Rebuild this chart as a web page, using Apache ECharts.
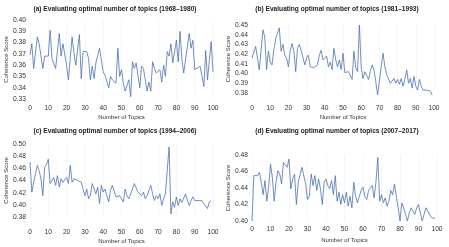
<!DOCTYPE html>
<html>
<head>
<meta charset="utf-8">
<script src="https://cdn.jsdelivr.net/npm/echarts@6/dist/echarts.min.js"></script>
<style>
  html, body { margin: 0; padding: 0; background: #fff; }
  #chart { width: 449px; height: 247px; }
</style>
</head>
<body>
<div id="chart"></div>
<script>
// (a) 1968-1980: read at the visible vertices
var topicsA = [0, 1, 2, 4, 5, 7, 8, 9, 10, 11, 12, 14, 16, 17, 18, 19, 20, 21, 23, 24, 25, 27, 28, 29,
  31, 32, 33, 34, 35, 36, 38, 39, 40, 41, 43, 44, 45, 47, 48, 49, 50, 51, 52, 54, 55, 56, 57, 58,
  60, 61, 62, 64, 65, 66, 67, 68, 69, 71, 72, 73, 74, 75, 76, 77, 78, 80, 81, 82, 83, 84, 85, 87,
  88, 89, 90, 91, 93, 94, 95, 96, 97, 99, 100]
var scoresA = [0.369, 0.379, 0.357, 0.385, 0.379, 0.357, 0.368, 0.367, 0.368, 0.391, 0.366, 0.357,
  0.388, 0.368, 0.379, 0.378, 0.360, 0.347, 0.385, 0.371, 0.360, 0.387, 0.348, 0.372,
  0.372, 0.366, 0.347, 0.359, 0.348, 0.362, 0.375, 0.375, 0.354, 0.351, 0.340, 0.350,
  0.347, 0.344, 0.375, 0.350, 0.356, 0.344, 0.337, 0.347, 0.332, 0.363, 0.357, 0.362,
  0.340, 0.359, 0.357, 0.337, 0.345, 0.337, 0.363, 0.357, 0.353, 0.356, 0.345, 0.360,
  0.350, 0.372, 0.368, 0.379, 0.362, 0.382, 0.363, 0.390, 0.365, 0.353, 0.365, 0.388,
  0.375, 0.382, 0.356, 0.356, 0.359, 0.350, 0.341, 0.373, 0.347, 0.381, 0.354]

// (b) 1981-1993, topics 0..99
var scoresB = [0.416, 0.414, 0.428, 0.426, 0.404, 0.424, 0.445, 0.438, 0.404, 0.423,
  0.412, 0.409, 0.424, 0.436, 0.438, 0.447, 0.423, 0.430, 0.419, 0.416,
  0.407, 0.423, 0.431, 0.423, 0.402, 0.426, 0.430, 0.424, 0.423, 0.409,
  0.416, 0.419, 0.407, 0.406, 0.406, 0.406, 0.409, 0.419, 0.424, 0.414,
  0.416, 0.418, 0.407, 0.412, 0.404, 0.426, 0.414, 0.407, 0.414, 0.404,
  0.421, 0.401, 0.402, 0.402, 0.402, 0.394, 0.423, 0.406, 0.402, 0.450,
  0.407, 0.395, 0.402, 0.402, 0.394, 0.402, 0.409, 0.404, 0.392, 0.378,
  0.380, 0.407, 0.421, 0.407, 0.399, 0.397, 0.390, 0.389, 0.395, 0.390,
  0.394, 0.389, 0.395, 0.387, 0.394, 0.404, 0.390, 0.395, 0.385, 0.397,
  0.387, 0.383, 0.394, 0.387, 0.383, 0.385, 0.383, 0.385, 0.382, 0.378]

// (c) 1994-2006, topics 0..99
var scoresC = [0.470, 0.421, 0.437, 0.451, 0.465, 0.456, 0.443, 0.415, 0.462, 0.466,
  0.475, 0.435, 0.435, 0.445, 0.432, 0.448, 0.429, 0.443, 0.437, 0.440,
  0.445, 0.435, 0.465, 0.437, 0.443, 0.445, 0.440, 0.443, 0.437, 0.426,
  0.415, 0.426, 0.410, 0.415, 0.435, 0.432, 0.418, 0.429, 0.402, 0.432,
  0.421, 0.426, 0.415, 0.405, 0.424, 0.432, 0.429, 0.413, 0.415, 0.415,
  0.413, 0.405, 0.426, 0.415, 0.410, 0.413, 0.426, 0.435, 0.437, 0.421,
  0.418, 0.415, 0.421, 0.410, 0.415, 0.424, 0.432, 0.418, 0.407, 0.415,
  0.410, 0.418, 0.399, 0.410, 0.418, 0.420, 0.495, 0.385, 0.405, 0.396,
  0.413, 0.399, 0.410, 0.404, 0.402, 0.418, 0.407, 0.399, 0.407, 0.413,
  0.407, 0.410, 0.407, 0.405, 0.407, 0.402, 0.405, 0.394, 0.405, 0.407]

// (d) 2007-2017, topics 0..99
var scoresD = [0.400, 0.455, 0.453, 0.455, 0.459, 0.447, 0.432, 0.449, 0.424, 0.441,
  0.469, 0.453, 0.424, 0.447, 0.461, 0.457, 0.445, 0.471, 0.469, 0.465,
  0.475, 0.439, 0.451, 0.457, 0.420, 0.447, 0.449, 0.465, 0.465, 0.445,
  0.426, 0.430, 0.457, 0.443, 0.455, 0.437, 0.451, 0.439, 0.420, 0.447,
  0.451, 0.443, 0.439, 0.449, 0.432, 0.455, 0.424, 0.435, 0.420, 0.432,
  0.422, 0.435, 0.418, 0.430, 0.416, 0.447, 0.430, 0.422, 0.430, 0.437,
  0.441, 0.430, 0.426, 0.437, 0.435, 0.443, 0.428, 0.447, 0.477, 0.424,
  0.432, 0.422, 0.428, 0.418, 0.424, 0.437, 0.432, 0.445, 0.430, 0.416,
  0.400, 0.422, 0.416, 0.408, 0.400, 0.410, 0.416, 0.412, 0.408, 0.416,
  0.420, 0.422, 0.400, 0.408, 0.416, 0.414, 0.408, 0.404, 0.403, 0.403]

var titles = [
  '(a) Evaluating optimal number of topics (1968\u20131980)',
  '(b) Evaluating optimal number of topics (1981\u20131993)',
  '(c) Evaluating optimal number of topics (1994\u20132006)',
  '(d) Evaluating optimal number of topics (2007\u20132017)'
]
var yMins = [0.33, 0.38, 0.38, 0.40]
var yMaxs = [0.40, 0.45, 0.50, 0.48]
var ySteps = [0.01, 0.01, 0.02, 0.02]

var topics = []
for (var t = 0; t < scoresB.length; t++) topics.push(t)

function pairs(xs, ys) {
  return ys.map(function(v, i) { return [xs[i], v] })
}

var FONT = 'Liberation Sans'
var LINE = '#4c72b0'
var TXT = '#333'

// panel boxes in pixels
var boxes = [
  { left: 30, top: 20, width: 183, height: 79, xLab: 6, xName: 15, yName: 17, tx: 115, ty: 9 },
  { left: 252, top: 25, width: 182, height: 68, xLab: 12, xName: 21, yName: 17, tx: 337, ty: 9 },
  { left: 30, top: 144, width: 183, height: 73, xLab: 12, xName: 21, yName: 20, tx: 115, ty: 131 },
  { left: 252, top: 155, width: 185, height: 66, xLab: 5, xName: 16, yName: 17, tx: 337, ty: 131 }
]
var seriesData = [pairs(topicsA, scoresA), pairs(topics, scoresB), pairs(topics, scoresC), pairs(topics, scoresD)]

var grids = [], xAxes = [], yAxes = [], series = [], graphics = []
boxes.forEach(function(b, i) {
  grids.push({ left: b.left, top: b.top, width: b.width, height: b.height })
  xAxes.push({
    type: 'value', gridIndex: i, min: 0, max: 100, interval: 10,
    name: 'Number of Topics', nameLocation: 'middle', nameGap: b.xName,
    nameTextStyle: { fontFamily: FONT, fontSize: 6, color: TXT, verticalAlign: 'top' },
    axisLine: { show: false }, axisTick: { show: false },
    axisLabel: { fontFamily: FONT, fontSize: 6.7, color: TXT, margin: b.xLab },
    splitLine: { show: true, lineStyle: { color: '#efefef', width: 0.6 } }
  })
  yAxes.push({
    type: 'value', gridIndex: i, min: yMins[i], max: yMaxs[i], interval: ySteps[i],
    name: 'Coherence Score', nameLocation: 'middle', nameGap: b.yName,
    nameTextStyle: { fontFamily: FONT, fontSize: 6, color: TXT },
    axisLine: { show: false }, axisTick: { show: false },
    axisLabel: {
      fontFamily: FONT, fontSize: 6.7, color: TXT, margin: 4,
      formatter: function(v) { return v.toFixed(2) }
    },
    splitLine: { show: false }
  })
  series.push({
    type: 'line', xAxisIndex: i, yAxisIndex: i, data: seriesData[i],
    showSymbol: false, clip: false, silent: true,
    lineStyle: { color: LINE, width: 0.8 }
  })
  graphics.push({
    type: 'text', x: b.tx, y: b.ty,
    style: {
      text: titles[i], fill: '#222', font: 'bold 6.6px "Liberation Sans"',
      align: 'center', verticalAlign: 'middle', textAlign: 'center', textVerticalAlign: 'middle'
    }
  })
})

var chart = echarts.init(document.getElementById('chart'))
chart.setOption({
  animation: false,
  backgroundColor: '#fff',
  grid: grids,
  xAxis: xAxes,
  yAxis: yAxes,
  series: series,
  graphic: graphics
})
</script>
</body>
</html>
